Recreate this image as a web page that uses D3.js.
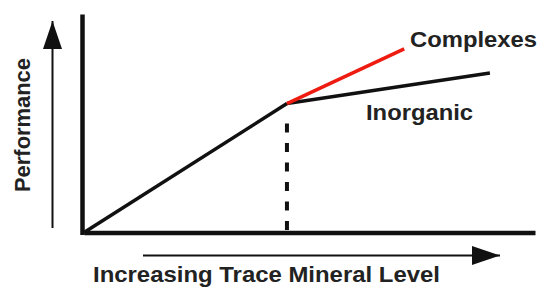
<!DOCTYPE html>
<html>
<head>
<meta charset="utf-8">
<script src="https://cdn.jsdelivr.net/npm/d3@7"></script>
<style>
  html, body { margin: 0; padding: 0; background: #fff; }
  svg { display: block; }
  text { font-family: "Liberation Sans", Arial, Helvetica, sans-serif; font-weight: bold; fill: #222; }
</style>
</head>
<body>
<svg id="chart" width="539" height="287"></svg>
<script>
// ---- data (conceptual units) ----
const baseLine = [[0, 0], [4.5, 5.9]];          // common response up to requirement
const complexesLine = [[4.5, 5.9], [7.1, 8.4]]; // red: Complexes
const inorganicLine = [[4.5, 5.9], [9.0, 7.3]]; // black: Inorganic
const kneeX = [4.5];
const seriesLabels = ["Complexes", "Inorganic"];
const xAxisTitle = "Increasing Trace Mineral Level";
const yAxisTitle = "Performance";

const svg = d3.select("#chart");

const x = d3.scaleLinear().domain([0, 10]).range([84, 535]);
const y = d3.scaleLinear().domain([0, 10]).range([232.5, 14]);

// axes (no ticks)
svg.append("g")
  .attr("transform", `translate(0,${y(0)})`)
  .call(d3.axisBottom(x).tickValues([]).tickSizeOuter(0))
  .call(g => g.select(".domain").attr("stroke", "#111").attr("stroke-width", 4.5));

svg.append("g")
  .attr("transform", `translate(${x(0) - 2},0)`)
  .call(d3.axisLeft(y.copy().range([234.5, 14])).tickValues([]).tickSizeOuter(0))
  .call(g => g.select(".domain").attr("stroke", "#111").attr("stroke-width", 4.5));

// dashed requirement line
svg.append("line")
  .attr("x1", x(kneeX[0])).attr("x2", x(kneeX[0]))
  .attr("y1", y(5.9) + 20).attr("y2", y(0))
  .attr("stroke", "#111").attr("stroke-width", 4)
  .attr("stroke-dasharray", "9,10.5");

const line = d3.line().x(d => x(d[0])).y(d => y(d[1]));

svg.append("path").datum(baseLine).attr("d", line)
  .attr("fill", "none").attr("stroke", "#111").attr("stroke-width", 3.5);
svg.append("path").datum(inorganicLine).attr("d", line)
  .attr("fill", "none").attr("stroke", "#111").attr("stroke-width", 3.5);
svg.append("path").datum(complexesLine).attr("d", line)
  .attr("fill", "none").attr("stroke", "#ee1c10").attr("stroke-width", 3.5);

// arrows
const defs = svg.append("defs");
defs.append("marker")
  .attr("id", "arrow")
  .attr("viewBox", "0 0 28 19")
  .attr("refX", 28).attr("refY", 9.5)
  .attr("markerWidth", 28).attr("markerHeight", 19)
  .attr("markerUnits", "userSpaceOnUse")
  .attr("orient", "auto")
  .append("path").attr("d", "M0,0L28,9.5L0,19Z").attr("fill", "#111");

svg.append("line")
  .attr("x1", 52.5).attr("y1", 228).attr("x2", 52.5).attr("y2", 21)
  .attr("stroke", "#111").attr("stroke-width", 2)
  .attr("marker-end", "url(#arrow)");

svg.append("line")
  .attr("x1", 143).attr("y1", 255.5).attr("x2", 500).attr("y2", 255.5)
  .attr("stroke", "#111").attr("stroke-width", 2)
  .attr("marker-end", "url(#arrow)");

// labels
svg.append("text")
  .attr("x", 410).attr("y", 47)
  .attr("font-size", 22)
  .attr("textLength", 127).attr("lengthAdjust", "spacingAndGlyphs")
  .text(seriesLabels[0]);

svg.append("text")
  .attr("x", 366).attr("y", 120)
  .attr("font-size", 22)
  .attr("textLength", 107).attr("lengthAdjust", "spacingAndGlyphs")
  .text(seriesLabels[1]);

svg.append("text")
  .attr("x", 93).attr("y", 282)
  .attr("font-size", 21.5)
  .attr("textLength", 347).attr("lengthAdjust", "spacingAndGlyphs")
  .text(xAxisTitle);

svg.append("text")
  .attr("transform", "translate(30,192) rotate(-90)")
  .attr("font-size", 22)
  .attr("textLength", 134).attr("lengthAdjust", "spacingAndGlyphs")
  .text(yAxisTitle);
</script>
</body>
</html>
